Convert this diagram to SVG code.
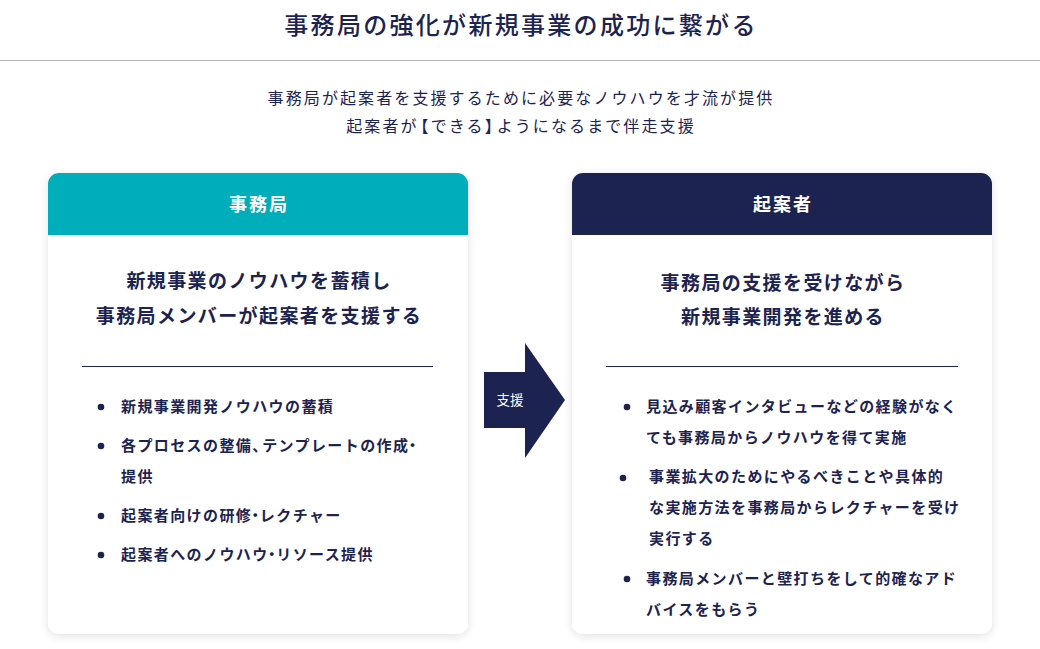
<svg xmlns="http://www.w3.org/2000/svg" width="1040" height="649" viewBox="0 0 1040 649">
<defs>
<style>
text{font-family:"Noto Sans CJK JP","Noto Sans",sans-serif;fill:#1D2350}
.title{font-size:24px;font-weight:500;letter-spacing:2.3px}
.sub{font-size:16px;font-weight:400;letter-spacing:2.1px}
.hdr{font-size:18px;font-weight:700;fill:#fff;letter-spacing:2px}
.head{font-size:19px;font-weight:700;letter-spacing:1.4px}
.item{font-size:15px;font-weight:700;letter-spacing:1.4px}
.nar{letter-spacing:-3px}
.dot{fill:#1D2350}
.card{fill:#fff}
</style>
<filter id="sh" x="-10%" y="-10%" width="120%" height="120%">
<feDropShadow dx="0" dy="2" stdDeviation="4" flood-color="#000" flood-opacity="0.12"/>
</filter>
</defs>
<rect width="1040" height="649" fill="#fff"/>
<text class="title" x="521" y="34" text-anchor="middle">事務局の強化が新規事業の成功に繋がる</text>
<line x1="0" y1="60.5" x2="1040" y2="60.5" stroke="#B5B5B5" stroke-width="1"/>
<text class="sub" x="521" y="104" text-anchor="middle">事務局が起案者を支援するために必要なノウハウを才流が提供</text>
<text class="sub" x="521" y="132" text-anchor="middle">起案者<tspan style="letter-spacing:-4px">が</tspan>【できる<tspan style="letter-spacing:-4px">】</tspan>ようになるまで伴走支援</text>

<g id="node-jimukyoku">
<rect class="card" x="48" y="173" width="420" height="461" rx="11" filter="url(#sh)"/>
<path d="M48 235 V184 A11 11 0 0 1 59 173 H457 A11 11 0 0 1 468 184 V235 Z" fill="#00ADBA"/>
<text class="hdr" x="259" y="211" text-anchor="middle">事務局</text>
<text class="head" x="259" y="288" text-anchor="middle">新規事業のノウハウを蓄積し</text>
<text class="head" x="259" y="323" text-anchor="middle">事務局メンバーが起案者を支援する</text>
<line x1="82" y1="366.5" x2="433" y2="366.5" stroke="#1D2350" stroke-width="1"/>
<circle class="dot" cx="101" cy="407" r="3.3"/>
<text class="item" x="121" y="412">新規事業開発ノウハウの蓄積</text>
<circle class="dot" cx="101" cy="446" r="3.3"/>
<text class="item" x="121" y="451">各プロセスの整備<tspan style="letter-spacing:-5px">、</tspan>テンプレートの作<tspan class="nar">成</tspan>・</text>
<text class="item" x="121" y="482">提供</text>
<circle class="dot" cx="101" cy="516" r="3.3"/>
<text class="item" x="121" y="521">起案者向けの研<tspan class="nar">修</tspan><tspan class="nar">・</tspan>レクチャー</text>
<circle class="dot" cx="101" cy="555" r="3.3"/>
<text class="item" x="121" y="560">起案者へのノウハ<tspan class="nar">ウ</tspan><tspan class="nar">・</tspan>リソース提供</text>
</g>

<g id="connectors">
<g id="arrow-shien">
<path d="M484 372 H525 V343 L565 400 L525 458 V428 H484 Z" fill="#1D2350"/>
<text x="510" y="405" text-anchor="middle" style="font-size:13.5px;fill:#fff;font-weight:400">支援</text>
</g>
</g>

<g id="node-kiansha">
<rect class="card" x="572" y="173" width="420" height="461" rx="11" filter="url(#sh)"/>
<path d="M572 235 V184 A11 11 0 0 1 583 173 H981 A11 11 0 0 1 992 184 V235 Z" fill="#1D2350"/>
<text class="hdr" x="783" y="211" text-anchor="middle">起案者</text>
<text class="head" x="783" y="290" text-anchor="middle">事務局の支援を受けながら</text>
<text class="head" x="783" y="324" text-anchor="middle">新規事業開発を進める</text>
<line x1="606" y1="366.5" x2="958" y2="366.5" stroke="#1D2350" stroke-width="1"/>
<circle class="dot" cx="627" cy="407" r="3.3"/>
<text class="item" x="646" y="412">見込み顧客インタビューなどの経験がなく</text>
<text class="item" x="646" y="443">ても事務局からノウハウを得て実施</text>
<circle class="dot" cx="623" cy="478" r="3.3"/>
<text class="item" x="649" y="482">事業拡大のためにやるべきことや具体的</text>
<text class="item" x="649" y="513">な実施方法を事務局からレクチャーを受け</text>
<text class="item" x="649" y="544">実行する</text>
<circle class="dot" cx="627" cy="579" r="3.3"/>
<text class="item" x="646" y="584">事務局メンバーと壁打ちをして的確なアド</text>
<text class="item" x="646" y="615">バイスをもらう</text>
</g>
</svg>
